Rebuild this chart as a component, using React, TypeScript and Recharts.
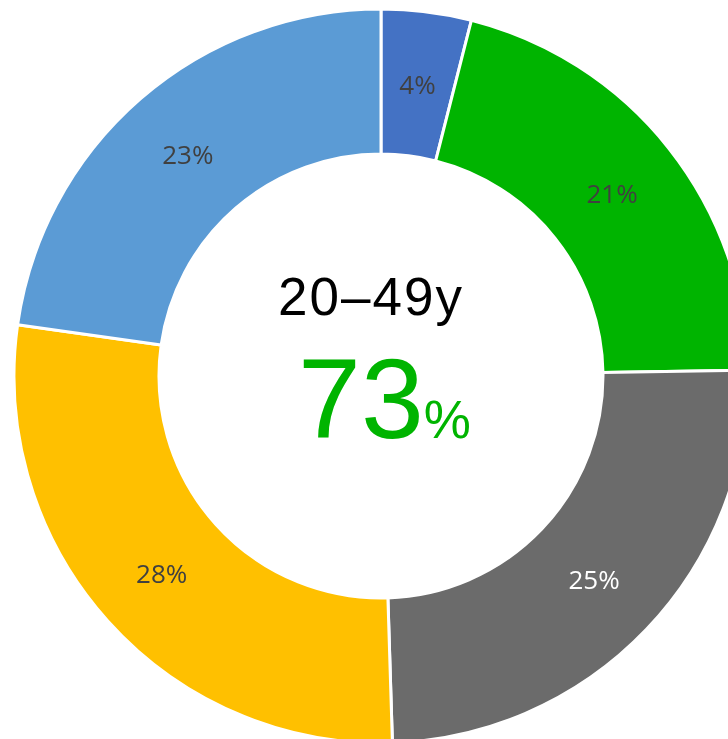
import React from 'react';
import { PieChart, Pie, Cell, Label } from 'recharts';

const categories = ['A', 'B', 'C', 'D', 'E'];
const values = [4, 21, 25, 28, 23];
const labels = ['4%', '21%', '25%', '28%', '23%'];
const colors = ['#4472C4', '#00B400', '#6B6B6B', '#FFC000', '#5B9BD5'];
const labelColors = ['#404040', '#404040', '#FFFFFF', '#404040', '#404040'];
const centerTitle = '20–49y';
const centerValue = '73';
const centerUnit = '%';

const data = categories.map((c, i) => ({ name: c, value: values[i], label: labels[i] }));

const RAD = Math.PI / 180;
const MARGIN = 5;
const CX = 376;
const CY = 371;

const renderLabel = (props: any) => {
  const { cx, cy, midAngle, innerRadius, outerRadius, index } = props;
  const r = (innerRadius + outerRadius) / 2;
  const x = cx + r * Math.cos(-midAngle * RAD);
  const y = cy + r * Math.sin(-midAngle * RAD);
  return (
    <text
      x={x}
      y={y}
      fill={labelColors[index]}
      textAnchor="middle"
      dominantBaseline="central"
      fontFamily="'Open Sans', sans-serif"
      fontSize={26}
    >
      {labels[index]}
    </text>
  );
};

const CenterContent = () => {
  const cx = CX + MARGIN;
  const cy = CY + MARGIN;
  return (
    <g>
      <text
        x={cx - 10}
        y={cy - 61}
        textAnchor="middle"
        fill="#000000"
        fontFamily="'Liberation Sans', Arial, sans-serif"
        fontSize={53}
        letterSpacing={2}
      >
        {centerTitle}
      </text>
      <text
        x={cx + 3.5}
        y={cy + 62}
        textAnchor="middle"
        fill="#00B400"
        fontFamily="'Liberation Sans', Arial, sans-serif"
      >
        <tspan fontSize={113}>{centerValue}</tspan>
        <tspan fontSize={53}>{centerUnit}</tspan>
      </text>
    </g>
  );
};

export default function App() {
  return (
    <div style={{ position: 'fixed', left: 0, top: 0, width: 728, height: 739, overflow: 'hidden' }}>
      <PieChart width={728} height={739} margin={{ top: MARGIN, right: MARGIN, bottom: MARGIN, left: MARGIN }}>
        <Pie
          data={data}
          dataKey="value"
          nameKey="name"
          cx={CX}
          cy={CY}
          innerRadius={222}
          outerRadius={367}
          startAngle={90}
          endAngle={-270}
          stroke="#FFFFFF"
          strokeWidth={3}
          label={renderLabel}
          labelLine={false}
          isAnimationActive={false}
        >
          {data.map((d, i) => (
            <Cell key={d.name} fill={colors[i]} />
          ))}
          <Label position="center" content={<CenterContent />} />
        </Pie>
      </PieChart>
    </div>
  );
}
